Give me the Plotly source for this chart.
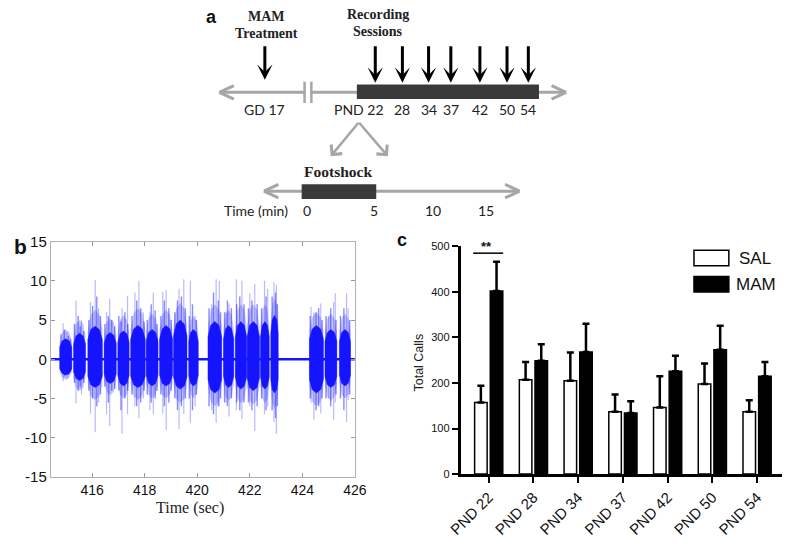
import plotly.graph_objects as go

W, H = 798, 547

# ---------------- Panel a (timeline) ----------------
session_labels = ["PND 22", "28", "34", "37", "42", "50", "54"]
gd_label = "GD 17"
footshock_ticks = ["0", "5", "10", "15"]

# ---------------- Panel b (signal) ----------------
burst_start = [414.77, 415.30, 415.84, 416.46, 416.98, 417.47, 418.06, 418.57, 419.10, 419.68,
               420.41, 421.00, 421.45, 421.90, 422.41, 422.80, 424.27, 424.86, 425.41]
burst_end = [415.23, 415.75, 416.39, 416.92, 417.41, 418.02, 418.51, 419.06, 419.61, 420.04,
             420.93, 421.39, 421.88, 422.37, 422.74, 423.08, 424.80, 425.31, 425.83]
core_up = [2.6, 3.3, 4.2, 3.4, 3.6, 4.3, 3.8, 4.3, 5.0, 3.8,
           4.8, 4.3, 4.8, 4.8, 4.8, 5.6, 4.3, 3.8, 3.8]
core_dn = [-2.0, -2.7, -3.6, -3.1, -3.4, -3.6, -3.4, -3.4, -3.8, -3.4,
           -4.3, -3.6, -3.8, -4.0, -3.8, -4.3, -4.3, -3.6, -3.4]
haze_up = [3.8, 5.0, 6.3, 5.2, 5.6, 6.5, 5.8, 6.3, 7.2, 5.5,
           7.0, 6.3, 7.0, 7.0, 7.0, 7.8, 6.0, 5.8, 5.8]
haze_dn = [-2.6, -4.0, -5.2, -4.6, -5.0, -5.2, -5.0, -5.0, -5.6, -5.0,
           -6.0, -5.3, -5.6, -5.8, -5.6, -6.3, -6.0, -5.3, -5.0]
# tallest (faint) spikes
spike_t = [414.90, 415.05, 415.39, 415.60, 415.94, 416.12, 416.25, 416.55, 416.67, 417.14,
           417.35, 417.63, 417.78, 417.95, 418.20, 418.33, 418.69, 418.82, 419.31, 419.49,
           419.74, 419.92, 420.55, 420.72, 420.84, 421.10, 421.21, 421.49, 421.70, 422.00,
           422.19, 422.56, 422.68, 422.92, 423.01, 424.33, 424.44, 424.70, 425.00, 425.19,
           425.25, 425.68, 425.74]
spike_hi = [4.6, 3.5, 7.5, 5.0, 7.3, 10.1, 6.5, 6.0, 7.7, 6.5,
            8.1, 8.5, 10.0, 6.0, 6.0, 8.5, 8.6, 8.8, 9.0, 10.2,
            10.0, 5.5, 7.0, 10.2, 10.0, 6.0, 7.1, 10.2, 10.0, 8.4,
            9.6, 10.0, 9.0, 9.8, 9.5, 6.7, 6.0, 7.1, 5.5, 7.3,
            8.4, 8.4, 6.5]
spike_lo = [-2.8, -2.5, -5.6, -4.5, -6.9, -9.3, -5.5, -7.0, -8.5, -9.5,
            -7.0, -6.0, -7.5, -5.0, -6.5, -7.0, -6.9, -9.0, -8.9, -7.0,
            -8.1, -6.0, -6.5, -8.1, -6.0, -5.5, -7.3, -6.5, -7.6, -6.0,
            -9.1, -7.0, -6.0, -8.0, -9.5, -5.5, -7.7, -6.9, -5.0, -7.7,
            -5.5, -8.0, -5.2]
# medium-density spikes
mid_t = [414.82, 414.95, 415.10, 415.18, 415.33, 415.47, 415.55, 415.68, 415.88, 416.02,
         416.18, 416.32, 416.49, 416.62, 416.75, 416.86, 417.02, 417.10, 417.25, 417.36,
         417.52, 417.70, 417.85, 417.98, 418.10, 418.25, 418.40, 418.47, 418.62, 418.75,
         418.92, 419.01, 419.15, 419.25, 419.40, 419.55, 419.70, 419.82, 419.97, 420.45,
         420.62, 420.80, 420.89, 421.04, 421.15, 421.30, 421.50, 421.62, 421.78, 421.95,
         422.08, 422.28, 422.45, 422.62, 422.85, 422.98, 423.05, 424.30, 424.52, 424.62,
         424.75, 424.90, 425.08, 425.28, 425.45, 425.58, 425.80]
mid_hi = [3.2, 3.8, 3.0, 2.6, 4.5, 5.5, 4.2, 3.6, 5.0, 6.8,
          8.0, 5.5, 4.5, 5.5, 5.0, 4.2, 5.5, 4.8, 6.0, 4.5,
          5.5, 7.5, 6.5, 4.8, 5.0, 7.0, 6.2, 4.5, 5.5, 7.5,
          6.5, 5.0, 6.0, 7.5, 8.0, 6.5, 5.5, 7.0, 5.0, 6.5,
          8.5, 7.5, 6.0, 6.0, 7.5, 6.5, 7.0, 8.0, 7.0, 6.5,
          7.5, 7.0, 6.5, 8.0, 8.0, 8.5, 7.0, 5.5, 6.0, 6.5,
          5.0, 5.5, 6.5, 5.0, 5.5, 6.5, 5.0]
mid_lo = [-1.5, -2.2, -2.0, -1.6, -3.0, -4.0, -3.5, -3.0, -4.0, -5.0,
          -6.0, -4.5, -3.5, -5.5, -4.0, -3.8, -4.0, -6.5, -5.0, -4.0,
          -4.5, -6.0, -5.5, -4.0, -4.5, -5.5, -5.0, -4.0, -4.5, -6.0,
          -5.5, -4.0, -5.0, -6.5, -6.0, -5.0, -5.0, -6.5, -4.5, -6.0,
          -7.0, -6.0, -5.0, -5.5, -6.0, -5.0, -5.5, -6.5, -5.5, -5.5,
          -6.5, -6.0, -5.0, -6.5, -6.5, -7.5, -6.0, -5.0, -6.5, -6.0,
          -5.0, -5.0, -6.0, -4.5, -5.0, -6.5, -4.5]
b_xticks = [416, 418, 420, 422, 424, 426]
b_yticks = [-15, -10, -5, 0, 5, 10, 15]
b_yticktext = ["-15", "-10", "-5", "0", "5", "10", "15"]

# ---------------- Panel c (bars) ----------------
categories = ["PND 22", "PND 28", "PND 34", "PND 37", "PND 42", "PND 50", "PND 54"]
sal_mean = [157, 207, 205, 137, 146, 198, 137]
sal_err = [37, 39, 62, 38, 69, 45, 25]
mam_mean = [402, 249, 268, 134, 226, 273, 215]
mam_err = [64, 36, 62, 26, 34, 53, 31]
c_yticks = [0, 100, 200, 300, 400, 500]


def px(x):
    return x / W


def py(y):
    return 1 - y / H


fig = go.Figure()

# ----- panel b traces -----
def polygons(ups, dns):
    xs, ys = [], []
    for s, e, u, d in zip(burst_start, burst_end, ups, dns):
        m = (s + e) / 2
        q1 = s + (e - s) * 0.2
        q3 = e - (e - s) * 0.2
        xs += [s, s, q1, m, q3, e, e, e, q3, m, q1, s, s, None]
        ys += [0, 0.6 * u, 0.9 * u, u, 0.9 * u, 0.6 * u, 0,
               0.6 * d, 0.9 * d, d, 0.9 * d, 0.6 * d, 0, None]
    return xs, ys


def segs(ts, his, los):
    xs, ys = [], []
    for t, hi, lo in zip(ts, his, los):
        xs += [t, t, None]
        ys += [lo, hi, None]
    return xs, ys

hx, hy = polygons(haze_up, haze_dn)
fig.add_trace(go.Scatter(x=hx, y=hy, mode="lines", fill="toself",
                         fillcolor="rgba(60,60,255,0.30)", line=dict(width=0),
                         hoverinfo="skip", showlegend=False, xaxis="x", yaxis="y"))
sx, sy = segs(spike_t, spike_hi, spike_lo)
fig.add_trace(go.Scatter(x=sx, y=sy, mode="lines",
                         line=dict(color="rgba(80,80,255,0.40)", width=1.2),
                         hoverinfo="skip", showlegend=False, xaxis="x", yaxis="y"))
mx, my = segs(mid_t, mid_hi, mid_lo)
fig.add_trace(go.Scatter(x=mx, y=my, mode="lines",
                         line=dict(color="rgba(40,40,255,0.55)", width=1.4),
                         hoverinfo="skip", showlegend=False, xaxis="x", yaxis="y"))
cx, cy = polygons(core_up, core_dn)
fig.add_trace(go.Scatter(x=cx, y=cy, mode="lines", fill="toself",
                         fillcolor="#1414ff", line=dict(width=0.5, color="#1414ff"),
                         hoverinfo="skip", showlegend=False, xaxis="x", yaxis="y"))
fig.add_trace(go.Scatter(x=[414.43, 426.0], y=[0, 0], mode="lines",
                         line=dict(color="#1414ff", width=2.5),
                         hoverinfo="skip", showlegend=False, xaxis="x", yaxis="y"))

# ----- panel c traces -----
fig.add_trace(go.Bar(x=categories, y=sal_mean, name="SAL",
                     marker=dict(color="white", line=dict(color="black", width=1.5)),
                     error_y=dict(type="data", array=sal_err, arrayminus=[0] * 7, symmetric=False,
                                  color="black", thickness=2.5, width=3.5),
                     showlegend=False, xaxis="x2", yaxis="y2"))
fig.add_trace(go.Bar(x=categories, y=mam_mean, name="MAM",
                     marker=dict(color="black", line=dict(color="black", width=1.5)),
                     error_y=dict(type="data", array=mam_err, arrayminus=[0] * 7, symmetric=False,
                                  color="black", thickness=2.5, width=3.5),
                     showlegend=False, xaxis="x2", yaxis="y2"))

shapes = []
ann = []
GRAY = "#a6a6a6"
DARK = "#3a3a3a"


def line(x0, y0, x1, y1, color, width):
    shapes.append(dict(type="line", xref="paper", yref="paper", x0=px(x0), y0=py(y0),
                       x1=px(x1), y1=py(y1), line=dict(color=color, width=width)))


def rect(x0, y0, x1, y1, fill, lc=None, lw=0):
    shapes.append(dict(type="rect", xref="paper", yref="paper", x0=px(x0), y0=py(y0),
                       x1=px(x1), y1=py(y1), fillcolor=fill,
                       line=dict(color=lc or fill, width=lw)))


def chevron(tx, ty, dx, color, width):
    line(tx, ty, tx + dx, ty - 7, color, width)
    line(tx, ty, tx + dx, ty + 7, color, width)


def text(x, y, s, size, family="Liberation Sans", bold=False, color="#222", xanchor="center",
         angle=0):
    if bold:
        s = "<b>" + s + "</b>"
    ann.append(dict(x=px(x), y=py(y), xref="paper", yref="paper", text=s, showarrow=False,
                    xanchor=xanchor, yanchor="middle", textangle=angle,
                    font=dict(size=size, family=family, color=color)))


def arrow(x, ytip, ytail, color, width, head, size, xtail=None):
    ann.append(dict(x=px(x), y=py(ytip), xref="paper", yref="paper", text="",
                    showarrow=True, arrowhead=head, arrowsize=size, arrowwidth=width,
                    arrowcolor=color, ax=(0 if xtail is None else xtail - x), ay=ytail - ytip,
                    axref="pixel", ayref="pixel", standoff=0))

# ---- panel a drawing ----
text(205, 8, "a", 18, bold=True, color="#111")
text(262, 8, "MAM", 14, "Liberation Serif", True, "#222")
text(262, 25, "Treatment", 14, "Liberation Serif", True, "#222")
text(377, 6, "Recording", 14, "Liberation Serif", True, "#222")
text(377, 23, "Sessions", 14, "Liberation Serif", True, "#222")

line(215, 86, 569, 86, GRAY, 3)
chevron(213, 86, 15, GRAY, 3)
chevron(571, 86, -15, GRAY, 3)
rect(302, 80, 307, 92, "white")
line(301, 75, 301, 97, GRAY, 2.5)
line(308, 75, 308, 97, GRAY, 2.5)
rect(355, 78, 543, 93, DARK)

arrow(260, 73, 38, "black", 3, 3, 0.85)
session_x = [374, 402, 429, 452, 482, 510, 532]
for sxp in session_x:
    arrow(sxp, 76, 38, "black", 3, 3, 0.85)

text(260, 104, gd_label, 14, "Lato", color="#222")
for lab, xp in zip(session_labels, [357, 402, 429, 452, 482, 510, 532]):
    text(xp, 104, lab, 14, "Lato", color="#222")

arrow(328, 152, 117, GRAY, 2.5, 4, 1.1, xtail=357)
arrow(387, 152, 117, GRAY, 2.5, 4, 1.1, xtail=357)
text(335, 168, "Footshock", 15.5, "Liberation Serif", True, "#222")
line(261, 188, 521, 188, GRAY, 3)
chevron(259, 188, 15, GRAY, 3)
chevron(523, 188, -15, GRAY, 3)
rect(298, 181, 375, 196, DARK)
text(286, 208, "Time (min)", 14, "Lato", color="#222", xanchor="right")
for lab, xp in zip(footshock_ticks, [303, 373, 434, 488]):
    text(xp, 208, lab, 14, "Lato", color="#222")

# ---- panel b labels ----
text(8, 245, "b", 21, bold=True, color="#111")
text(183, 515, "Time (sec)", 16, "Liberation Serif", color="#222")

# ---- panel c extras ----
text(402, 238, "c", 18, bold=True, color="#111")
line(475, 252, 506, 252, "black", 1.5)
text(489, 245, "**", 13, bold=True, color="#111")
text(419, 365, "Total Calls", 12.5, color="#222", angle=-90)
rect(703, 249, 739, 265, "white", "black", 1.5)
rect(703, 276, 739, 292, "black", "black", 1.5)
text(747, 257, "SAL", 17, color="#111", xanchor="left")
text(744, 284, "MAM", 17, color="#111", xanchor="left")

fig.update_layout(
    width=W, height=H, autosize=False,
    margin=dict(l=0, r=0, t=0, b=0),
    paper_bgcolor="white", plot_bgcolor="white",
    barmode="group", bargap=0.3, bargroupgap=0.2,
    shapes=shapes, annotations=ann, showlegend=False,
    xaxis=dict(domain=[px(39), px(353)], range=[414.43, 426.0], tickvals=b_xticks,
               showline=True, mirror="ticks", linecolor="#b0b0b0", linewidth=1,
               ticks="inside", ticklen=4, tickcolor="#999", showgrid=False, zeroline=False,
               tickfont=dict(family="Liberation Sans", size=14, color="#111")),
    yaxis=dict(domain=[py(483), py(240)], range=[-15, 15], tickvals=b_yticks,
               ticktext=b_yticktext,
               showline=True, mirror="ticks", linecolor="#b0b0b0", linewidth=1,
               ticks="inside", ticklen=4, tickcolor="#999", showgrid=False, zeroline=False,
               tickfont=dict(family="Liberation Sans", size=15, color="#111")),
    xaxis2=dict(domain=[px(462), px(794)], type="category", range=[-0.63, 6.56],
                anchor="y2", showline=True, linecolor="black", linewidth=2.5,
                ticks="outside", ticklen=6, tickwidth=2, tickcolor="black", tickangle=-45,
                showgrid=False, zeroline=False,
                tickfont=dict(family="Liberation Sans", size=15, color="#111")),
    yaxis2=dict(domain=[py(480), py(245)], range=[0, 500], tickvals=c_yticks,
                anchor="x2", showline=True, linecolor="black", linewidth=2.5,
                ticks="outside", ticklen=6, tickwidth=2, tickcolor="black",
                showgrid=False, zeroline=False,
                tickfont=dict(family="Liberation Sans", size=11, color="#111")),
)

post = ("document.body.style.margin='0px';document.body.style.padding='0px';"
        "document.body.style.overflow='hidden';"
        "var gd=document.getElementById('{plot_id}');"
        "gd.style.position='absolute';gd.style.left='0px';gd.style.top='0px';")
fig.write_html("out.html", post_script=post, config={"displayModeBar": False})
